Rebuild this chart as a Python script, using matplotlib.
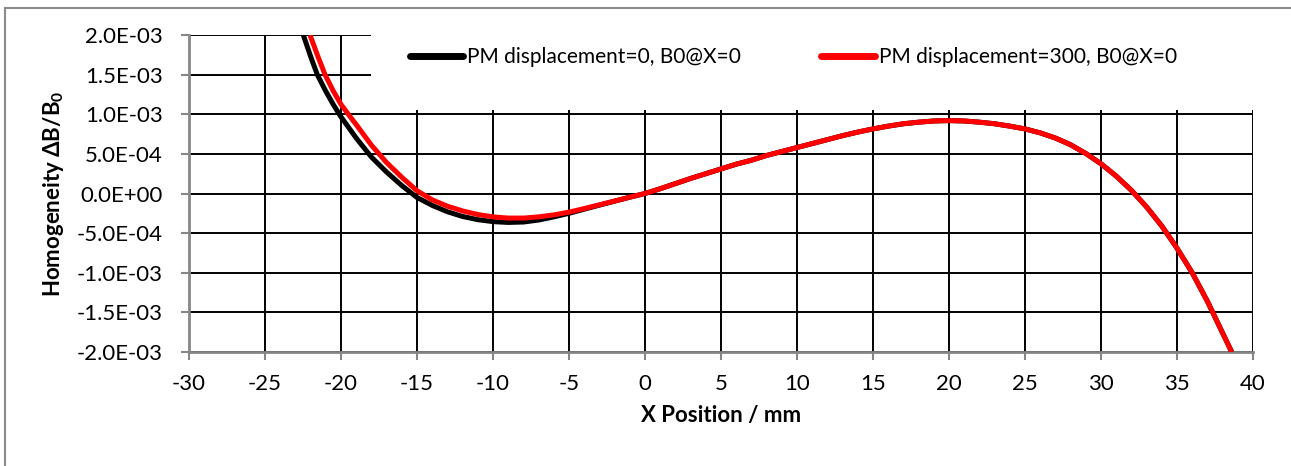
import matplotlib
matplotlib.use("Agg")
import matplotlib.pyplot as plt
from matplotlib.patches import Rectangle

plt.rcParams['font.family'] = ['Lato', 'DejaVu Sans']
plt.rcParams['mathtext.fontset'] = 'custom'
plt.rcParams['mathtext.rm'] = 'Lato'
plt.rcParams['mathtext.bf'] = 'Lato:bold'

# Data
x_disp0 = [-22.48, -22, -21.56, -21, -20.5, -20, -19, -18, -17, -16, -15, -14, -13, -12, -11, -10,
           -9, -8, -7, -6, -5, -4, -3, -2, -1, 0, 1, 2, 3, 4, 5, 6, 7, 8, 9, 10, 11, 12, 13, 14, 15,
           16, 17, 18, 19, 20, 21, 22, 23, 24, 25, 26, 27, 28, 29, 30, 31, 32, 33, 34, 35, 36, 37, 38, 38.6]
y_disp0 = [2.0e-3, 1.73e-3, 1.5e-3, 1.29e-3, 1.12e-3, 0.967e-3, 0.70e-3, 0.46e-3, 0.27e-3, 0.10e-3,
           -0.05e-3, -0.15e-3, -0.23e-3, -0.29e-3, -0.33e-3, -0.355e-3, -0.365e-3, -0.36e-3, -0.335e-3,
           -0.295e-3, -0.25e-3, -0.198e-3, -0.147e-3, -0.097e-3, -0.047e-3, 0.0, 0.06e-3, 0.125e-3,
           0.19e-3, 0.25e-3, 0.31e-3, 0.37e-3, 0.42e-3, 0.48e-3, 0.53e-3, 0.58e-3, 0.63e-3, 0.68e-3,
           0.73e-3, 0.775e-3, 0.815e-3, 0.85e-3, 0.88e-3, 0.90e-3, 0.915e-3, 0.92e-3, 0.915e-3, 0.90e-3,
           0.88e-3, 0.85e-3, 0.815e-3, 0.765e-3, 0.70e-3, 0.615e-3, 0.505e-3, 0.375e-3, 0.22e-3, 0.04e-3,
           -0.17e-3, -0.41e-3, -0.69e-3, -1.0e-3, -1.36e-3, -1.76e-3, -2.0e-3]

x_disp300 = [-22.04, -21.5, -21.05, -20.5, -20, -19.52, -19, -18, -17, -16, -15, -14, -13, -12, -11,
             -10, -9, -8, -7, -6, -5, -4, -3, -2, -1, 0, 1, 2, 3, 4, 5, 6, 7, 8, 9, 10, 11, 12, 13, 14, 15,
             16, 17, 18, 19, 20, 21, 22, 23, 24, 25, 26, 27, 28, 29, 30, 31, 32, 33, 34, 35, 36, 37, 38, 38.6]
y_disp300 = [2.0e-3, 1.72e-3, 1.5e-3, 1.29e-3, 1.125e-3, 1.0e-3, 0.87e-3, 0.61e-3, 0.39e-3, 0.205e-3,
             0.035e-3, -0.08e-3, -0.16e-3, -0.22e-3, -0.265e-3, -0.295e-3, -0.31e-3, -0.31e-3, -0.295e-3,
             -0.27e-3, -0.235e-3, -0.19e-3, -0.143e-3, -0.095e-3, -0.046e-3, 0.0, 0.06e-3, 0.125e-3,
             0.19e-3, 0.25e-3, 0.31e-3, 0.37e-3, 0.42e-3, 0.48e-3, 0.53e-3, 0.58e-3, 0.63e-3, 0.68e-3,
             0.73e-3, 0.775e-3, 0.815e-3, 0.85e-3, 0.88e-3, 0.90e-3, 0.915e-3, 0.92e-3, 0.915e-3, 0.90e-3,
             0.88e-3, 0.85e-3, 0.815e-3, 0.765e-3, 0.70e-3, 0.615e-3, 0.505e-3, 0.375e-3, 0.22e-3, 0.04e-3,
             -0.17e-3, -0.41e-3, -0.69e-3, -1.0e-3, -1.36e-3, -1.76e-3, -2.0e-3]

series_labels = ["PM displacement=0, B0@X=0", "PM displacement=300, B0@X=0"]
x_ticks = list(range(-30, 41, 5))
y_ticks = [-2.0e-3, -1.5e-3, -1.0e-3, -0.5e-3, 0.0, 0.5e-3, 1.0e-3, 1.5e-3, 2.0e-3]

W, H = 1291, 466
fig = plt.figure(figsize=(W / 100, H / 100), dpi=100)

# outer chart border
fig.patches.append(Rectangle((5 / W, -0.01), 1.02, 1 - 8 / H + 0.01, transform=fig.transFigure,
                             fill=False, edgecolor='#8a8a8a', linewidth=1.5))

L, R, T, B = 189, 1253, 35, 352
ax = fig.add_axes([L / W, 1 - B / H, (R - L) / W, (B - T) / H])

ax.plot(x_disp0, y_disp0, color='black', lw=3.6, label=series_labels[0], zorder=4,
        solid_capstyle='butt', solid_joinstyle='round')
ax.plot(x_disp300, y_disp300, color='#ff0000', lw=3.6, label=series_labels[1], zorder=5,
        solid_capstyle='butt', solid_joinstyle='round')

ax.set_xlim(-30, 40)
ax.set_ylim(-2.0e-3, 2.0e-3)
ax.set_xticks(x_ticks)
ax.set_yticks(y_ticks)
ax.set_yticklabels([f"{v:.1E}" for v in y_ticks])
ax.set_xticklabels([str(v) for v in x_ticks])
ax.grid(True, color='black', lw=1.4, zorder=1)
ax.set_axisbelow(True)

for s in ['top', 'right']:
    ax.spines[s].set_visible(False)
for s in ['left', 'bottom']:
    ax.spines[s].set_color('#868686')
    ax.spines[s].set_linewidth(2)
    ax.spines[s].set_zorder(3)
ax.tick_params(axis='both', direction='out', length=6, width=1.5, color='#868686',
               labelsize=16, labelcolor='black')
ax.tick_params(axis='x', pad=10)
ax.tick_params(axis='y', pad=13)

ax.set_xlabel("X Position / mm", fontsize=16, fontweight='bold', labelpad=8)
ax.set_ylabel(r"Homogeneity ΔB/B$_\mathbf{0}$", fontsize=16, fontweight='bold', labelpad=8)

# legend background covering the top of the plot area
ax.add_patch(Rectangle(((371 - L) / (R - L), (B - 110) / (B - T)), 1.01, 0.3,
                       transform=ax.transAxes, facecolor='white', edgecolor='none',
                       zorder=2, clip_on=False))

leg = ax.legend(loc='center left', bbox_to_anchor=((410 - L) / (R - L), (B - 57) / (B - T)),
                ncol=2, frameon=False, fontsize=15, handlelength=2.55, handletextpad=0.2,
                columnspacing=3.85, borderaxespad=0, borderpad=0)
leg.set_zorder(6)
for ln in leg.get_lines():
    ln.set_linewidth(5)
    ln.set_solid_capstyle('round')

fig.savefig("out.png", dpi=100)
